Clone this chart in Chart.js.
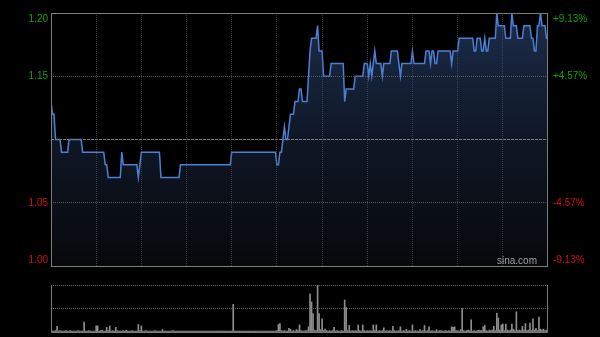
<!DOCTYPE html>
<html>
<head>
    <meta charset="UTF-8">
    <title>sina minute chart</title>
    <script src="https://cdn.jsdelivr.net/npm/chart.js"></script>
    <style>
        body { margin: 0; background: #000; }
        #wrap { position: relative; width: 600px; height: 337px; background: #000; }
        canvas { position: absolute; left: 0; }
        #price { top: 0; }
        #vol { top: 280px; }
    </style>
</head>
<body>
<div id="wrap">
    <canvas id="price" width="600" height="280"></canvas>
    <canvas id="vol" width="600" height="57"></canvas>
</div>
<script>
// price per minute (330 minutes of trading)
const prices = [
    1.13,1.12,1.12,1.10,1.10,1.10,1.10,1.09,1.09,1.09,
    1.09,1.09,1.10,1.10,1.10,1.10,1.10,1.10,1.10,1.10,
    1.10,1.09,1.09,1.09,1.09,1.09,1.09,1.09,1.09,1.09,
    1.09,1.09,1.09,1.09,1.09,1.09,1.08,1.08,1.07,1.07,
    1.07,1.07,1.07,1.07,1.07,1.07,1.07,1.09,1.08,1.08,
    1.08,1.08,1.08,1.08,1.08,1.08,1.08,1.08,1.07,1.08,
    1.09,1.09,1.09,1.09,1.09,1.09,1.09,1.09,1.09,1.09,
    1.09,1.09,1.09,1.07,1.07,1.07,1.07,1.07,1.07,1.07,
    1.07,1.07,1.07,1.07,1.07,1.07,1.08,1.08,1.08,1.08,
    1.08,1.08,1.08,1.08,1.08,1.08,1.08,1.08,1.08,1.08,
    1.08,1.08,1.08,1.08,1.08,1.08,1.08,1.08,1.08,1.08,
    1.08,1.08,1.08,1.08,1.08,1.08,1.08,1.08,1.08,1.08,
    1.09,1.09,1.09,1.09,1.09,1.09,1.09,1.09,1.09,1.09,
    1.09,1.09,1.09,1.09,1.09,1.09,1.09,1.09,1.09,1.09,
    1.09,1.09,1.09,1.09,1.09,1.09,1.09,1.09,1.09,1.09,
    1.08,1.08,1.09,1.09,1.10,1.11,1.10,1.10,1.11,1.12,
    1.12,1.12,1.13,1.13,1.13,1.14,1.14,1.13,1.13,1.13,
    1.13,1.15,1.17,1.18,1.18,1.18,1.18,1.19,1.17,1.17,
    1.17,1.15,1.15,1.15,1.15,1.15,1.16,1.16,1.16,1.16,
    1.16,1.16,1.16,1.16,1.16,1.13,1.14,1.14,1.14,1.14,
    1.14,1.14,1.15,1.15,1.15,1.15,1.15,1.15,1.16,1.16,
    1.16,1.15,1.16,1.15,1.16,1.17,1.16,1.16,1.16,1.16,
    1.15,1.16,1.16,1.16,1.16,1.16,1.17,1.17,1.17,1.17,
    1.17,1.16,1.15,1.16,1.16,1.16,1.16,1.16,1.16,1.16,
    1.17,1.16,1.16,1.16,1.16,1.16,1.16,1.16,1.16,1.17,
    1.17,1.17,1.16,1.17,1.17,1.16,1.16,1.17,1.17,1.17,
    1.17,1.17,1.17,1.17,1.17,1.17,1.16,1.17,1.17,1.17,
    1.17,1.18,1.18,1.18,1.18,1.18,1.18,1.18,1.18,1.18,
    1.18,1.17,1.17,1.18,1.18,1.18,1.17,1.17,1.18,1.17,
    1.17,1.18,1.18,1.18,1.18,1.18,1.20,1.19,1.19,1.19,
    1.19,1.19,1.18,1.18,1.18,1.18,1.20,1.19,1.19,1.19,
    1.18,1.18,1.18,1.18,1.19,1.19,1.19,1.19,1.19,1.18,
    1.18,1.17,1.17,1.19,1.19,1.20,1.19,1.19,1.19,1.18,1.18
];

// volume per minute (relative, top of panel = 100)
const volumes = [
    3,2,2,3,12,2,3,2,2,2, 3,2,2,3,2,2,2,2,3,2, 2,2,21,2,2,3,2,2,2,2,
    13,13,2,3,4,2,2,10,3,13, 2,3,2,10,3,2,2,2,3,2, 4,2,2,2,3,2,2,2,16,3,
    13,2,2,3,2,2,2,2,2,3, 2,2,2,2,5,2,2,2,2,2, 2,3,2,2,2,2,2,2,2,2,
    2,2,2,2,2,2,2,2,2,2, 2,2,2,2,2,2,2,2,2,2, 2,2,2,2,2,2,2,2,2,2,
    2,59,2,2,2,2,2,2,2,2, 2,2,2,2,2,2,2,2,2,2, 2,2,2,2,2,2,2,2,2,2,
    3,16,18,3,2,3,2,2,8,6, 2,3,2,5,3,15,3,2,2,3, 3,11,81,64,39,4,3,100,39,5,
    28,3,6,3,2,3,2,3,10,2, 3,2,2,3,2,68,52,3,14,2, 3,2,3,2,15,3,2,15,3,2,
    3,2,3,2,15,3,15,2,3,2, 3,9,2,3,2,3,2,12,3,2, 2,3,11,2,3,2,6,2,3,2,
    15,2,3,2,2,5,2,3,14,2, 3,11,2,3,2,2,5,2,3,3, 2,2,3,2,3,2,11,10,11,3,
    3,2,5,50,3,2,3,4,3,26, 2,3,2,3,4,3,3,11,14,3, 2,4,3,4,12,3,40,30,4,15,
    17,3,17,4,3,4,17,6,3,43, 3,4,3,12,4,18,3,4,19,3, 28,4,8,3,32,6,4,6,3,4,
    3
];

const priceTicks = [1.00, 1.05, 1.10, 1.15, 1.20];
const leftLabels = ['1.00', '1.05', '', '1.15', '1.20'];
const rightLabels = ['-9.13%', '-4.57%', '', '+4.57%', '+9.13%'];
const preClose = 1.10;

const green = '#0fa00f';
const red = '#d00f0f';
const frameColor = '#7c7c7c';

const pricePoints = prices.map(function (p, i) { return { x: i, y: p }; });
const volPoints = volumes.map(function (v, i) { return { x: i, y: v }; });

function sameValue(a, b) { return Math.abs(a - b) < 0.0001; }

// axis labels + frame + watermark
const priceDecor = {
    id: 'priceDecor',
    afterDraw(chart) {
        const ctx = chart.ctx;
        const area = chart.chartArea;
        const y = chart.scales.y;
        ctx.save();
        ctx.strokeStyle = frameColor;
        ctx.lineWidth = 1;
        ctx.strokeRect(Math.round(area.left) + 0.5, Math.round(area.top) + 0.5,
            Math.round(area.right - area.left) - 1, Math.round(area.bottom - area.top));

        ctx.font = '10px "Liberation Sans", Arial, sans-serif';
        ctx.textBaseline = 'middle';
        for (let i = 0; i < priceTicks.length; i++) {
            if (!leftLabels[i]) continue;
            let py = y.getPixelForValue(priceTicks[i]);
            if (i === 0) py -= 6;
            if (i === priceTicks.length - 1) py += 6;
            ctx.fillStyle = priceTicks[i] > preClose ? green : red;
            ctx.textAlign = 'right';
            ctx.fillText(leftLabels[i], area.left - 3, py);
            ctx.textAlign = 'left';
            ctx.fillText(rightLabels[i], area.right + 5, py);
        }

        ctx.fillStyle = '#a0a0a0';
        ctx.textAlign = 'right';
        ctx.fillText('sina.com', area.right - 11, area.bottom - 5);
        ctx.restore();
    }
};

new Chart(document.getElementById('price'), {
    type: 'line',
    data: {
        datasets: [{
            data: pricePoints,
            borderColor: '#4a80d6',
            borderWidth: 1.5,
            pointRadius: 0,
            tension: 0,
            fill: 'start',
            backgroundColor: function (context) {
                const area = context.chart.chartArea;
                if (!area) return 'rgba(0,0,0,0)';
                const g = context.chart.ctx.createLinearGradient(0, area.top, 0, area.bottom);
                g.addColorStop(0, '#1c2c4a');
                g.addColorStop(0.5, '#0f1726');
                g.addColorStop(1, '#07080b');
                return g;
            }
        }]
    },
    options: {
        responsive: false,
        animation: false,
        devicePixelRatio: 1,
        layout: { padding: { left: 51, right: 52, top: 13, bottom: 14 } },
        plugins: { legend: { display: false }, tooltip: { enabled: false } },
        scales: {
            x: {
                type: 'linear',
                min: 0,
                max: 330,
                ticks: { display: false, stepSize: 30 },
                grid: {
                    z: 1,
                    drawTicks: false,
                    color: function (c) {
                        const v = c.tick ? c.tick.value : 0;
                        return (v === 0 || v === 330) ? 'rgba(0,0,0,0)' : 'rgba(90,90,90,0.6)';
                    }
                },
                border: { display: false, dash: [1, 1] },
                afterFit: function (scale) { scale.height = 0; }
            },
            y: {
                min: 1.00,
                max: 1.20,
                ticks: { display: false, stepSize: 0.05 },
                grid: {
                    z: 1,
                    drawTicks: false,
                    color: function (c) {
                        const v = c.tick ? c.tick.value : 0;
                        return (sameValue(v, 1.05) || sameValue(v, 1.15)) ? '#5e5e5e' : 'rgba(0,0,0,0)';
                    }
                },
                border: { display: false, dash: [1, 1] },
                afterFit: function (scale) { scale.width = 0; }
            },
            y1: {
                position: 'right',
                min: 1.00,
                max: 1.20,
                ticks: { display: false },
                afterBuildTicks: function (scale) { scale.ticks = [{ value: preClose }]; },
                grid: { z: 1, drawTicks: false, color: '#7a7a7a' },
                border: { display: false, dash: [3, 1] },
                afterFit: function (scale) { scale.width = 0; }
            }
        }
    },
    plugins: [priceDecor]
});

const volFrame = {
    id: 'volFrame',
    afterDraw(chart) {
        const ctx = chart.ctx;
        const a = chart.chartArea;
        ctx.save();
        ctx.strokeStyle = frameColor;
        ctx.lineWidth = 1;
        ctx.beginPath();
        ctx.moveTo(Math.round(a.left) + 0.5, Math.round(a.top));
        ctx.lineTo(Math.round(a.left) + 0.5, Math.round(a.bottom) + 0.5);
        ctx.lineTo(Math.round(a.right) - 0.5, Math.round(a.bottom) + 0.5);
        ctx.lineTo(Math.round(a.right) - 0.5, Math.round(a.top));
        ctx.stroke();
        ctx.restore();
    }
};

new Chart(document.getElementById('vol'), {
    type: 'bar',
    data: {
        datasets: [{
            data: volPoints,
            backgroundColor: '#8e8e8e',
            barThickness: 1,
            grouped: false
        }]
    },
    options: {
        responsive: false,
        animation: false,
        devicePixelRatio: 1,
        layout: { padding: { left: 51, right: 52, top: 5, bottom: 5 } },
        plugins: { legend: { display: false }, tooltip: { enabled: false } },
        scales: {
            x: {
                type: 'linear',
                min: 0,
                max: 330,
                offset: false,
                ticks: { display: false },
                grid: { display: false },
                border: { display: false },
                afterFit: function (scale) { scale.height = 0; }
            },
            y: {
                min: 0,
                max: 100,
                ticks: { display: false, stepSize: 50 },
                grid: {
                    drawTicks: false,
                    color: function (c) {
                        const v = c.tick ? c.tick.value : 0;
                        return v === 0 ? 'rgba(0,0,0,0)' : '#6a6a6a';
                    }
                },
                border: { display: false, dash: [1, 1] },
                afterFit: function (scale) { scale.width = 0; }
            }
        }
    },
    plugins: [volFrame]
});
</script>
</body>
</html>
